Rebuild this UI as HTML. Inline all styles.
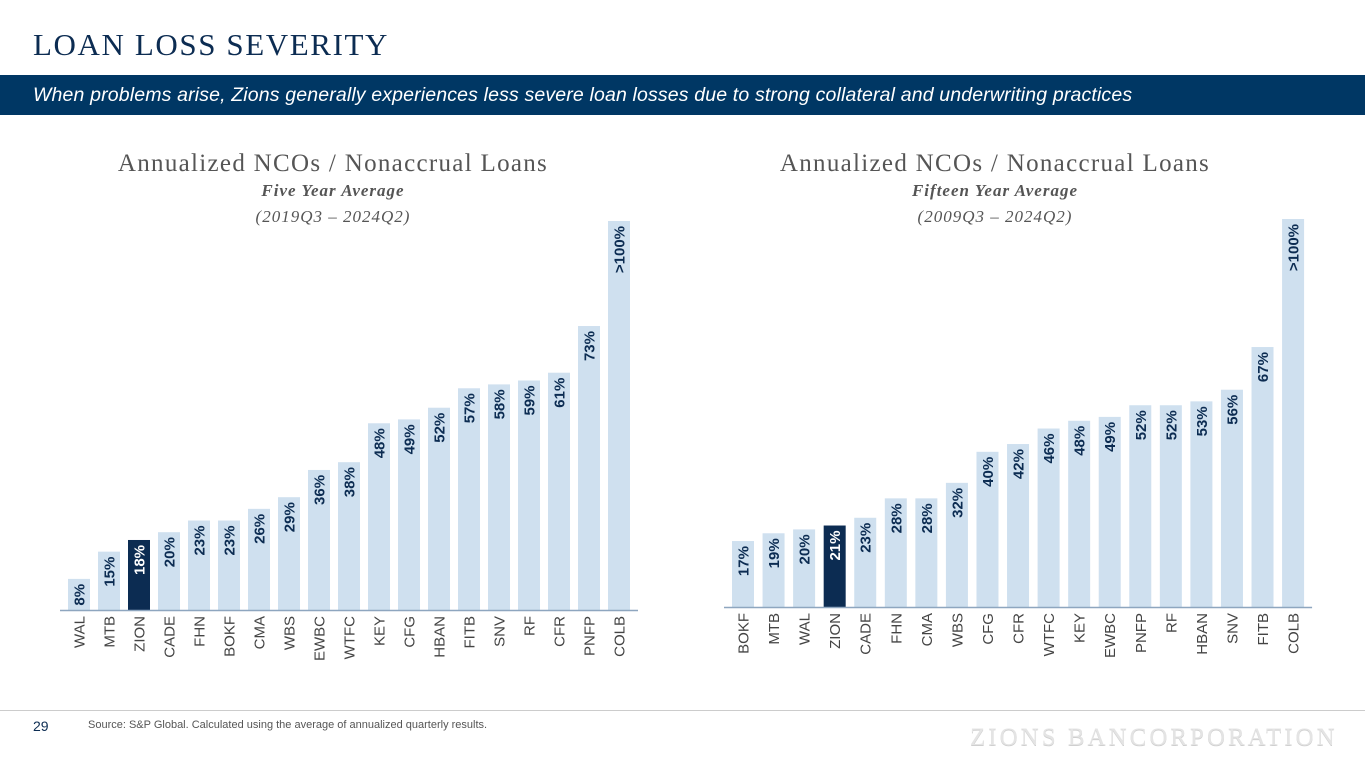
<!DOCTYPE html>
<html><head><meta charset="utf-8"><style>
body{margin:0;width:1365px;height:768px;background:#fff;position:relative;overflow:hidden;font-family:"Liberation Sans",sans-serif}
.a{position:absolute;white-space:nowrap}
</style></head><body>
<div class="a" style="left:33px;top:27px;font-family:'Liberation Serif',serif;font-size:31px;color:#0c2c52;letter-spacing:1.6px">LOAN LOSS SEVERITY</div>
<div class="a" style="left:0;top:75px;width:1365px;height:40px;background:#003764"></div>
<div class="a" style="left:33px;top:84px;font-size:19.5px;font-style:italic;color:#fff;letter-spacing:0.15px">When problems arise, Zions generally experiences less severe loan losses due to strong collateral and underwriting practices</div>
<svg class="a" id="svg" width="1365" height="768" style="left:0;top:0"></svg>
<div class="a" style="left:0;top:710px;width:1365px;height:1px;background:#ccc"></div>
<div class="a" style="left:33px;top:718px;font-size:14px;color:#0c2c52">29</div>
<div class="a" style="left:88px;top:719px;font-size:11px;color:#555">Source: S&amp;P Global. Calculated using the average of annualized quarterly results.</div>
<div class="a" style="left:970px;top:724px;font-family:'Liberation Serif',serif;font-size:25px;color:#e4e4e4;letter-spacing:3px;text-shadow:0 1px 0 #cfcfcf">ZIONS BANCORPORATION</div>
<script>
const leftCats=["WAL","MTB","ZION","CADE","FHN","BOKF","CMA","WBS","EWBC","WTFC","KEY","CFG","HBAN","FITB","SNV","RF","CFR","PNFP","COLB"];
const leftVals=[8,15,18,20,23,23,26,29,36,38,48,49,52,57,58,59,61,73,100];
const leftLabels=["8%","15%","18%","20%","23%","23%","26%","29%","36%","38%","48%","49%","52%","57%","58%","59%","61%","73%",">100%"];
const rightCats=["BOKF","MTB","WAL","ZION","CADE","FHN","CMA","WBS","CFG","CFR","WTFC","KEY","EWBC","PNFP","RF","HBAN","SNV","FITB","COLB"];
const rightVals=[17,19,20,21,23,28,28,32,40,42,46,48,49,52,52,53,56,67,100];
const rightLabels=["17%","19%","20%","21%","23%","28%","28%","32%","40%","42%","46%","48%","49%","52%","52%","53%","56%","67%",">100%"];
const svg=document.getElementById('svg');
const NS='http://www.w3.org/2000/svg';
function mk(t,at){const e=document.createElementNS(NS,t);for(const k in at)e.setAttribute(k,at[k]);svg.appendChild(e);return e;}
function chart(cats,vals,labels,x0,step,base,scale,cx,t1,t2,t3,pfx){
  const y=v=>base-v*scale;
  let e=mk('text',{x:cx,y:171,'text-anchor':'middle','font-family':'Liberation Serif,serif','font-size':25,'letter-spacing':1.3,fill:'#555'});e.textContent=t1;
  
  
  e=mk('text',{x:cx,y:196,'text-anchor':'middle','font-family':'Liberation Serif,serif','font-size':17,'letter-spacing':1,'font-style':'italic','font-weight':'bold',fill:'#555'});e.textContent=t2;
  
  
  e=mk('text',{x:cx,y:222,'text-anchor':'middle','font-family':'Liberation Serif,serif','font-size':17,'letter-spacing':1,'font-style':'italic',fill:'#555'});e.textContent=t3;
  
  
  cats.forEach((c,i)=>{
    const x=x0+i*step, z=c==='ZION';
    const r=mk('rect',{x:x,y:y(vals[i]),width:22,height:base-y(vals[i]),fill:z?'#0c2c52':'#cfe0ef'});
    
    
    const lx=x+16.5,ly=y(vals[i])+5;
    const t=mk('text',{x:lx,y:ly,transform:`rotate(-90 ${lx} ${ly})`,'text-anchor':'end','font-size':15,'font-weight':'bold',fill:z?'#fff':'#0c2c52'});
    t.textContent=labels[i];
    
    
    const cx2=x+16.5,cy2=base+6;
    const ct=mk('text',{x:cx2,y:cy2,transform:`rotate(-90 ${cx2} ${cy2})`,'text-anchor':'end','font-size':15,fill:'#444'});
    ct.textContent=c;
    
    
  });
  const l=mk('line',{x1:x0-8,x2:x0+(cats.length-1)*step+30,y1:base+0.5,y2:base+0.5,stroke:'#8ea6bf','stroke-width':1.5});
  
  
}
chart(leftCats,leftVals,leftLabels,68,30,610,3.89,333,'Annualized NCOs / Nonaccrual Loans','Five Year Average','(2019Q3 – 2024Q2)','left');
chart(rightCats,rightVals,rightLabels,732,30.56,607,3.88,995,'Annualized NCOs / Nonaccrual Loans','Fifteen Year Average','(2009Q3 – 2024Q2)','right');
</script>
</body></html>
